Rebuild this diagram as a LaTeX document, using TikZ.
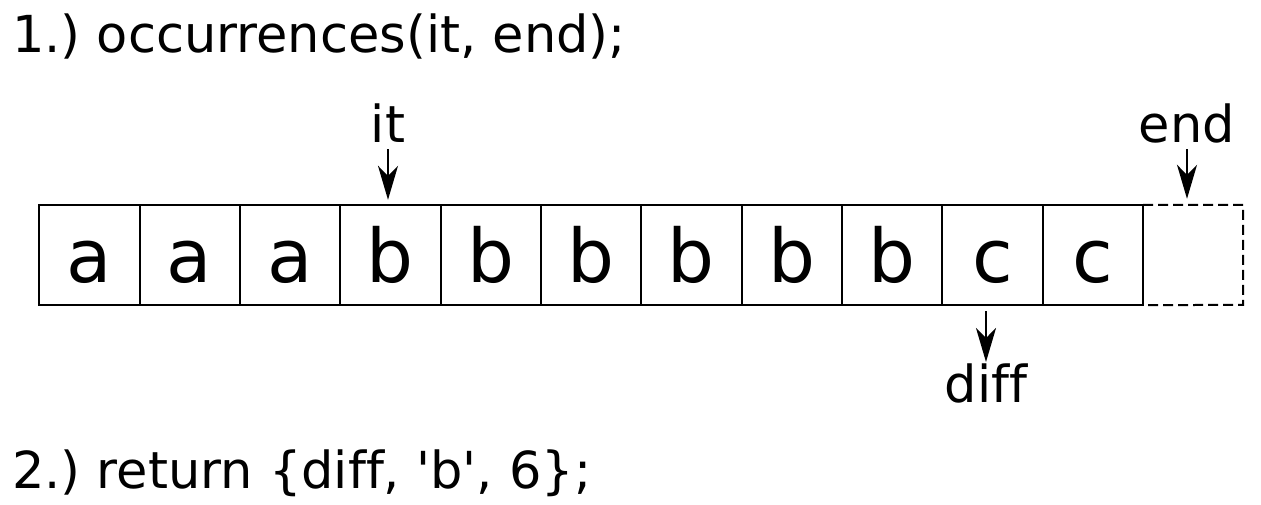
\documentclass[tikz,border=0pt]{standalone}
\usepackage{fontspec}
\setmainfont{DejaVu Sans}[Ligatures={TeXOff,CommonOff}]
\usetikzlibrary{arrows.meta}
\frenchspacing
\begin{document}
\begin{tikzpicture}[x=1pt,y=-1pt,
  cell/.style={minimum width=100.36pt,minimum height=100pt,inner sep=0pt,
    text height=54pt,text depth=0pt,font=\fontsize{74}{74}\selectfont},
  edge/.style={line width=2pt},
  lbl/.style={inner sep=0pt,anchor=base,font=\fontsize{51}{51}\selectfont},
  head/.style={inner sep=0pt,anchor=base west,font=\fontsize{51}{51}\selectfont},
  ptr/.style={line width=2pt,-{Stealth[length=34pt,width=20pt,inset=10pt]}}]
\useasboundingbox (0,0) rectangle (1261,504);
\node[head] (t1) at (12,52) {1.) occurrences(it, end);};
\node[head] (t2) at (12,488) {2.) return \{diff, \textquotesingle b\textquotesingle, 6\};};
\foreach \i/\c in {1/a,2/a,3/a,4/b,5/b,6/b,7/b,8/b,9/b,10/c,11/c}{
  \node[cell] (c\i) at ({39+(\i-0.5)*100.36},255) {\c};
}
\draw[edge] (c11.north east) -- (c1.north west) -- (c1.south west) -- (c11.south east) -- cycle;
\foreach \i in {1,...,10}{
  \draw[edge] (c\i.north east) -- (c\i.south east);
}
\draw[edge,dash pattern=on 10pt off 5pt] (c11.north east) -- ++(100,0) -- ++(0,100) -- (c11.south east);
\node[lbl] (lit) at (388,142) {it};
\node[lbl] (lend) at (1187,142) {end};
\node[lbl] (ldiff) at (986,402) {diff};
\draw[ptr] ([yshift=-7pt]lit.base) -- ([yshift=5pt]lit.base |- c4.north);
\draw[ptr] ([yshift=-7pt]lend.base) -- ([yshift=6pt]lend.base |- c11.north);
\draw[ptr] ([yshift=-6pt]ldiff.base |- c10.south) -- ([yshift=40pt]ldiff.base);
\end{tikzpicture}
\end{document}
